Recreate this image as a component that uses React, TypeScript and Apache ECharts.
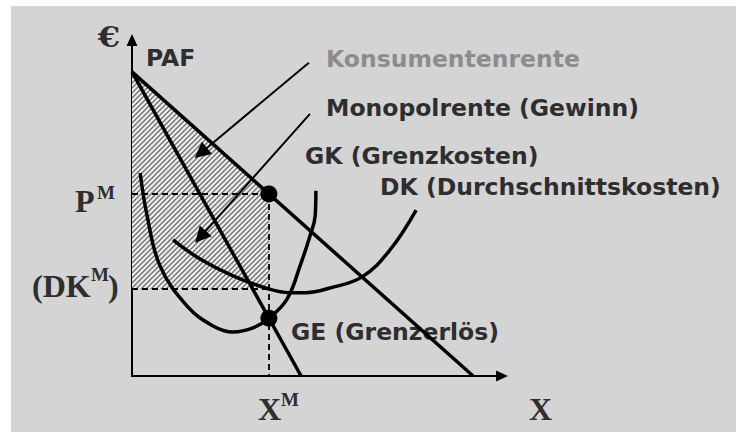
import React, { useEffect, useRef } from "react";
import * as echarts from "echarts";

// ---- data (value units: quantity 0..100, price 0..100) ----
const PAF_PRICE = 90.5;      // Prohibitivpreis (PAF intercept)
const DEMAND_END_X = 92.2;   // Sättigungsmenge
const GE_END_X = 45.7;       // Grenzerlös hits zero
const X_M = 37.0;            // Monopolmenge
const P_M = 54.2;            // Monopolpreis
const GE_AT_XM = 17.2;       // GE = GK
const DK_M = 25.9;           // Durchschnittskosten bei X^M

const demandLine = [[0, PAF_PRICE], [DEMAND_END_X, 0]];
const geLine = [[0, PAF_PRICE], [GE_END_X, 0]];
const gkCurve = [
  [2.2, 60.4], [4.1, 47.6], [7.6, 32.7], [14.9, 20.8], [21.9, 14.9], [27.3, 13.1],
  [32.7, 14.3], [37.0, 17.2], [41.9, 22.9], [45.4, 32.7], [48.1, 41.7], [49.5, 47.6], [49.7, 55.1],
];
const dkCurve = [
  [11.1, 40.5], [18.4, 34.8], [27.3, 29.8], [37.0, 25.9], [42.5, 24.8], [47.0, 24.8],
  [53.5, 26.2], [62.2, 29.5], [69.7, 37.5], [76.8, 49.4],
];
const hatchArea = [[0, PAF_PRICE], [X_M, P_M], [X_M, DK_M], [0, DK_M]];
const optimumPoints = [[X_M, P_M], [X_M, GE_AT_XM]];
const guideLines = [
  [[0, P_M], [X_M, P_M]],
  [[0, DK_M], [X_M, DK_M]],
  [[X_M, P_M], [X_M, 0]],
];
const arrowKonsum = [[47.8, 93.2], [18.6, 66.4]];
const arrowMonopol = [[48.1, 78.0], [18.5, 41.4]];

const curveLabels = ["PAF", "Konsumentenrente", "Monopolrente (Gewinn)", "GK (Grenzkosten)", "DK (Durchschnittskosten)", "GE (Grenzerlös)"];
const tickLabels = [
  { base: "P", sup: "M", tail: "" },
  { base: "(DK", sup: "M", tail: ")" },
  { base: "X", sup: "M", tail: "" },
];
const axisNames = ["€", "X"];

function makeHatch() {
  const s = 5;
  const c = document.createElement("canvas");
  c.width = s;
  c.height = s;
  const ctx = c.getContext("2d")!;
  ctx.fillStyle = "#ececec";
  ctx.fillRect(0, 0, s, s);
  ctx.strokeStyle = "#6e6e6e";
  ctx.lineWidth = 1.3;
  ctx.beginPath();
  ctx.moveTo(-1, s + 1);
  ctx.lineTo(s + 1, -1);
  ctx.moveTo(-1, 1);
  ctx.lineTo(1, -1);
  ctx.moveTo(s - 1, s + 1);
  ctx.lineTo(s + 1, s - 1);
  ctx.stroke();
  return c;
}

const SANS = '"DejaVu Sans", Verdana, sans-serif';
const SERIF = '"Liberation Serif", "Times New Roman", serif';
const DARK = "#2e2e2e";

export default function App() {
  const ref = useRef<HTMLDivElement>(null);
  useEffect(() => {
    if (!ref.current) return;
    const chart = echarts.init(ref.current, null, { renderer: "svg" });
    const pattern = { image: makeHatch(), repeat: "repeat" };
    const axisCommon = {
      type: "value",
      min: 0,
      max: 100,
      axisLine: { show: true, onZero: false, lineStyle: { color: "#000", width: 2 }, symbol: ["none", "triangle"], symbolSize: [11, 12] },
      axisTick: { show: false },
      axisLabel: { show: false },
      splitLine: { show: false },
    };
    const curveStyle = { color: "#000", width: 3.5 };
    const sansText = (i: number, x: number, y: number, fill = DARK) => ({
      type: "text",
      x,
      y,
      style: { text: curveLabels[i], fontFamily: SANS, fontWeight: "bold", fontSize: 23.5, fill, textVerticalAlign: "middle" },
    });
    const serifText = (text: string, x: number, y: number, size: number) => ({
      type: "text",
      x,
      y,
      style: { text, fontFamily: SERIF, fontWeight: "bold", fontSize: size, fill: DARK, textVerticalAlign: "middle" },
    });
    chart.setOption({
      animation: false,
      grid: { left: 132, top: 40, width: 370, height: 336 },
      xAxis: axisCommon,
      yAxis: axisCommon,
      series: [
        {
          type: "custom",
          coordinateSystem: "cartesian2d",
          data: [[0, 0]],
          silent: true,
          z: 1,
          renderItem: (_p: any, api: any) => ({
            type: "polygon",
            shape: { points: hatchArea.map((p) => api.coord(p)) },
            style: { fill: pattern, stroke: "none" },
          }),
        },
        {
          type: "lines",
          coordinateSystem: "cartesian2d",
          z: 2,
          data: guideLines.map((c) => ({ coords: c })),
          symbol: "none",
          lineStyle: { color: "#000", width: 1.8, opacity: 1, type: [6, 4] },
        },
        { type: "line", data: demandLine, showSymbol: false, lineStyle: curveStyle, z: 3 },
        { type: "line", data: geLine, showSymbol: false, lineStyle: curveStyle, z: 3 },
        { type: "line", data: gkCurve, smooth: 0.4, showSymbol: false, lineStyle: curveStyle, z: 3 },
        { type: "line", data: dkCurve, smooth: 0.4, showSymbol: false, lineStyle: curveStyle, z: 3 },
        {
          type: "lines",
          coordinateSystem: "cartesian2d",
          z: 4,
          data: [{ coords: arrowKonsum }, { coords: arrowMonopol }],
          symbol: ["none", "triangle"],
          symbolSize: [13, 16],
          lineStyle: { color: "#000", width: 2, opacity: 1 },
          itemStyle: { color: "#000" },
        },
        { type: "scatter", data: optimumPoints, symbolSize: 17, itemStyle: { color: "#000", opacity: 1 }, z: 5 },
      ],
      graphic: [
        sansText(0, 146, 58),
        sansText(1, 326, 59, "#8c8c8c"),
        sansText(2, 326, 108),
        sansText(3, 305, 156),
        sansText(4, 380, 186.5),
        sansText(5, 291, 332),
        { type: "text", x: 109, y: 37, scaleX: 1.15, style: { text: axisNames[0], fontFamily: '"DejaVu Serif", serif', fontWeight: "bold", fontSize: 28, fill: DARK, textAlign: "center", textVerticalAlign: "middle" } },
        serifText(axisNames[1], 529, 409, 32),
        serifText(tickLabels[0].base, 75, 201, 32),
        serifText(tickLabels[0].sup, 97, 192.5, 19),
        serifText(tickLabels[1].base, 32, 286, 32),
        serifText(tickLabels[1].sup, 91, 274.5, 19),
        serifText(tickLabels[1].tail, 108, 286, 32),
        serifText(tickLabels[2].base, 258, 409, 32),
        serifText(tickLabels[2].sup, 281, 399, 19),
      ],
    });
    return () => chart.dispose();
  }, []);
  return (
    <div style={{ position: "fixed", left: 0, top: 0, width: 736, height: 432, background: "#fff" }}>
      <div style={{ position: "absolute", left: 11, top: 6, width: 725, height: 426, background: "#d4d4d4" }} />
      <div ref={ref} style={{ position: "absolute", left: 0, top: 0, width: 736, height: 432 }} />
    </div>
  );
}
